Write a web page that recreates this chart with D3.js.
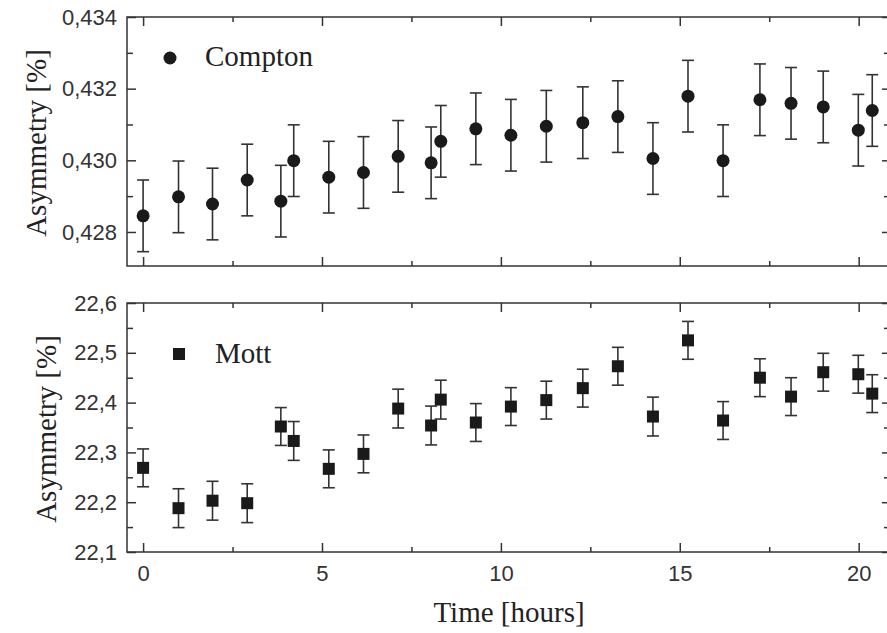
<!DOCTYPE html>
<html>
<head>
<meta charset="utf-8">
<script src="https://cdn.jsdelivr.net/npm/d3@7"></script>
<style>
  body { margin: 0; background: #fff; }
  .tick text { font-family: "Liberation Sans", Arial, sans-serif; font-size: 22px; fill: #333; }
  .domain, .tick line { stroke: #333; stroke-width: 1.5px; }
  .title { font-family: "Liberation Serif", "Times New Roman", serif; font-size: 29px; fill: #222; }
</style>
</head>
<body>
<script>
// time of each run (hours)
var time = [0, 0.99, 1.94, 2.91, 3.85, 4.21, 5.19, 6.16, 7.13, 8.05, 8.32, 9.30,
            10.28, 11.27, 12.29, 13.27, 14.25, 15.23, 16.21, 17.24, 18.11, 19.01, 19.99, 20.38];

// Compton asymmetry [%] and errors
var compton = [0.42845, 0.42898, 0.42878, 0.42945, 0.42886, 0.42999, 0.42953, 0.42966,
               0.43011, 0.42993, 0.43053, 0.43088, 0.43070, 0.43095, 0.43105, 0.43122,
               0.43005, 0.43179, 0.42999, 0.43169, 0.43159, 0.43149, 0.43084, 0.43139];
var comptonErr = [0.001, 0.001, 0.001, 0.001, 0.001, 0.001, 0.001, 0.001,
                  0.001, 0.001, 0.001, 0.001, 0.001, 0.001, 0.001, 0.001,
                  0.001, 0.001, 0.001, 0.001, 0.001, 0.001, 0.001, 0.001];

// Mott asymmetry [%] and errors
var mott = [22.269, 22.188, 22.203, 22.198, 22.352, 22.323, 22.267, 22.297,
            22.388, 22.354, 22.406, 22.360, 22.392, 22.405, 22.429, 22.473,
            22.372, 22.525, 22.364, 22.450, 22.412, 22.461, 22.457, 22.418];
var mottErr = [0.038, 0.039, 0.039, 0.039, 0.038, 0.039, 0.038, 0.038,
               0.039, 0.039, 0.039, 0.038, 0.038, 0.038, 0.038, 0.038,
               0.039, 0.038, 0.038, 0.038, 0.038, 0.038, 0.038, 0.038];

// tick values
var xMajor = [0, 5, 10, 15, 20];
var xMinor = [2.5, 7.5, 12.5, 17.5];
var comptonMajor = [0.428, 0.430, 0.432, 0.434];
var comptonMinor = [0.429, 0.431, 0.433];
var mottMajor = [22.1, 22.2, 22.3, 22.4, 22.5, 22.6];
var mottMinor = [22.15, 22.25, 22.35, 22.45, 22.55];

var W = 887, H = 633;
var left = 127, right = 888;

var locale = d3.formatLocale({decimal: ",", thousands: ".", grouping: [3], currency: ["", ""]});

var svg = d3.select("body").append("svg")
    .attr("width", W)
    .attr("height", H);

// shared x scale
var x = d3.scaleLinear().domain([-0.45, 20.82]).range([left, right]);

function panel(opts) {
  var y = d3.scaleLinear().domain(opts.domain).range([opts.bottom, opts.top]);
  var g = svg.append("g");
  var h = opts.bottom - opts.top, w = right - left;

  // frame
  g.append("rect")
      .attr("x", left).attr("y", opts.top)
      .attr("width", w).attr("height", h)
      .attr("fill", "none").attr("stroke", "#333").attr("stroke-width", 1.5);

  // bottom axis
  g.append("g").attr("transform", "translate(0," + opts.bottom + ")")
      .call(d3.axisBottom(x).tickValues(xMajor).tickSizeInner(-9).tickSizeOuter(0).tickPadding(13)
        .tickFormat(opts.xLabels ? d3.format("d") : ""));
  g.append("g").attr("transform", "translate(0," + opts.bottom + ")")
      .call(d3.axisBottom(x).tickValues(xMinor).tickSizeInner(-5).tickSizeOuter(0).tickFormat(""));
  // top axis
  g.append("g").attr("transform", "translate(0," + opts.top + ")")
      .call(d3.axisTop(x).tickValues(xMajor).tickSizeInner(-9).tickSizeOuter(0).tickFormat(""));
  g.append("g").attr("transform", "translate(0," + opts.top + ")")
      .call(d3.axisTop(x).tickValues(xMinor).tickSizeInner(-5).tickSizeOuter(0).tickFormat(""));

  // left axis
  g.append("g").attr("transform", "translate(" + left + ",0)")
      .call(d3.axisLeft(y).tickValues(opts.major).tickSizeInner(-9).tickSizeOuter(0).tickPadding(10)
        .tickFormat(locale.format(opts.fmt)));
  g.append("g").attr("transform", "translate(" + left + ",0)")
      .call(d3.axisLeft(y).tickValues(opts.minor).tickSizeInner(-6).tickSizeOuter(0).tickFormat(""));
  // right axis
  g.append("g").attr("transform", "translate(" + right + ",0)")
      .call(d3.axisRight(y).tickValues(opts.major).tickSizeInner(-6).tickSizeOuter(0).tickFormat(""));
  g.append("g").attr("transform", "translate(" + right + ",0)")
      .call(d3.axisRight(y).tickValues(opts.minor).tickSizeInner(-4).tickSizeOuter(0).tickFormat(""));

  g.selectAll(".domain").remove();

  // error bars
  var pts = time.map(function(t, i) { return {t: t, v: opts.values[i], e: opts.errors[i]}; });
  var eb = g.append("g").attr("stroke", "#333").attr("stroke-width", 1.6);
  eb.selectAll(".bar").data(pts).enter().append("line")
      .attr("x1", function(d) { return x(d.t); })
      .attr("x2", function(d) { return x(d.t); })
      .attr("y1", function(d) { return y(d.v - d.e); })
      .attr("y2", function(d) { return y(d.v + d.e); });
  [-1, 1].forEach(function(s) {
    eb.selectAll(".cap" + s).data(pts).enter().append("line")
        .attr("x1", function(d) { return x(d.t) - 6; })
        .attr("x2", function(d) { return x(d.t) + 6; })
        .attr("y1", function(d) { return y(d.v + s * d.e); })
        .attr("y2", function(d) { return y(d.v + s * d.e); });
  });

  // markers
  if (opts.shape === "circle") {
    g.selectAll(".pt").data(pts).enter().append("circle")
        .attr("cx", function(d) { return x(d.t); })
        .attr("cy", function(d) { return y(d.v); })
        .attr("r", 6.5).attr("fill", "#1a1a1a");
    g.append("circle").attr("cx", 170).attr("cy", opts.top + 41).attr("r", 6.5).attr("fill", "#1a1a1a");
  } else {
    g.selectAll(".pt").data(pts).enter().append("rect")
        .attr("x", function(d) { return x(d.t) - 6; })
        .attr("y", function(d) { return y(d.v) - 6; })
        .attr("width", 12).attr("height", 12).attr("fill", "#1a1a1a");
    g.append("rect").attr("x", 173).attr("y", opts.top + 45).attr("width", 12).attr("height", 12).attr("fill", "#1a1a1a");
  }

  // legend
  g.append("text").attr("class", "title")
      .attr("x", opts.legendX).attr("y", opts.top + opts.legendDy)
      .text(opts.name);

  // y title
  g.append("text").attr("class", "title")
      .attr("transform", "translate(" + opts.titleX + "," + opts.titleY + ") rotate(-90)")
      .attr("text-anchor", "middle")
      .text("Asymmetry [%]");
}

panel({
  top: 17, bottom: 266,
  domain: [0.42705, 0.434],
  major: comptonMajor, minor: comptonMinor, fmt: ".3f",
  values: compton, errors: comptonErr,
  shape: "circle", name: "Compton", legendX: 205, legendDy: 49,
  titleX: 46, titleY: 143, xLabels: false
});

panel({
  top: 303, bottom: 552,
  domain: [22.1, 22.6],
  major: mottMajor, minor: mottMinor, fmt: ".1f",
  values: mott, errors: mottErr,
  shape: "square", name: "Mott", legendX: 215, legendDy: 60,
  titleX: 56, titleY: 429, xLabels: true
});

// x title
svg.append("text").attr("class", "title")
    .attr("x", 509).attr("y", 622)
    .attr("text-anchor", "middle")
    .text("Time [hours]");
</script>
</body>
</html>
